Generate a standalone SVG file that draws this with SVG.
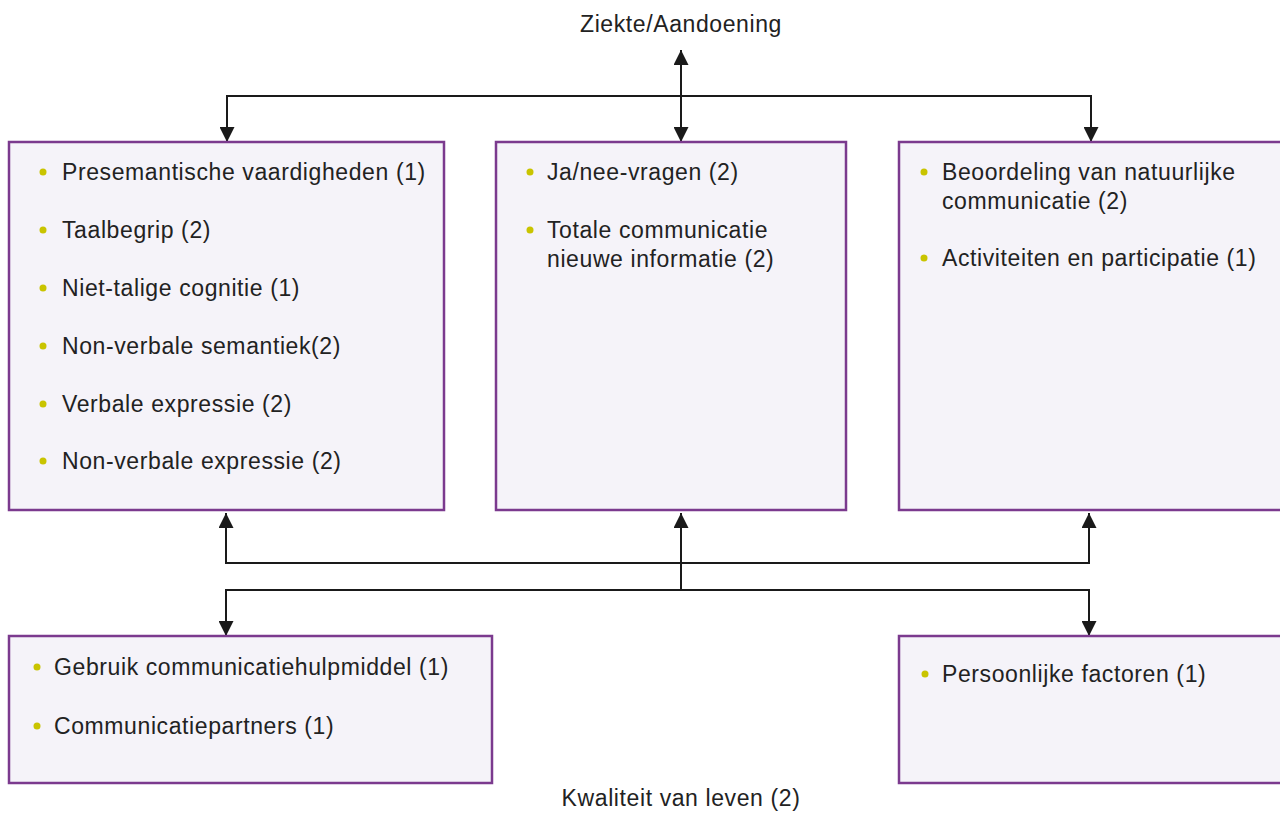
<svg xmlns="http://www.w3.org/2000/svg" width="1280" height="833" viewBox="0 0 1280 833">
<defs>
<style>
.box{fill:#f5f3f9;stroke:#7b3a8e;stroke-width:2.5}
.t{font-family:"Liberation Sans",Arial,sans-serif;font-size:23px;letter-spacing:0.6px;fill:#222}
.c{text-anchor:middle}
.b{fill:#c9c400}
.ln{fill:none;stroke:#1a1a1a;stroke-width:2}
</style>
<marker id="ah" viewBox="0 0 10 10" refX="10" refY="5" markerWidth="15" markerHeight="15" markerUnits="userSpaceOnUse" orient="auto-start-reverse">
<path d="M0,0 L10,5 L0,10 z" fill="#1a1a1a"/>
</marker>
</defs>
<rect width="1280" height="833" fill="#fff"/>
<g id="connectors">
<polyline class="ln" points="227,142 227,96 1091,96 1091,142" marker-start="url(#ah)" marker-end="url(#ah)"/>
<line class="ln" x1="681" y1="50" x2="681" y2="142" marker-start="url(#ah)" marker-end="url(#ah)"/>
<polyline class="ln" points="226,513 226,563 1089,563 1089,513" marker-start="url(#ah)" marker-end="url(#ah)"/>
<line class="ln" x1="681" y1="513" x2="681" y2="590" marker-start="url(#ah)"/>
<polyline class="ln" points="226,636 226,590 1089,590 1089,636" marker-start="url(#ah)" marker-end="url(#ah)"/>
</g>
<g id="ziekte"><text class="t c" x="681" y="32">Ziekte/Aandoening</text></g>
<g id="kwaliteit"><text class="t c" x="681" y="806">Kwaliteit van leven (2)</text></g>
<g id="box1">
<rect class="box" x="9" y="142" width="435" height="368"/>
<circle class="b" cx="43" cy="172" r="3.5"/><text class="t" x="62" y="180">Presemantische vaardigheden (1)</text>
<circle class="b" cx="43" cy="230" r="3.5"/><text class="t" x="62" y="238">Taalbegrip (2)</text>
<circle class="b" cx="43" cy="288" r="3.5"/><text class="t" x="62" y="296">Niet-talige cognitie (1)</text>
<circle class="b" cx="43" cy="346" r="3.5"/><text class="t" x="62" y="354">Non-verbale semantiek(2)</text>
<circle class="b" cx="43" cy="404" r="3.5"/><text class="t" x="62" y="412">Verbale expressie (2)</text>
<circle class="b" cx="43" cy="461" r="3.5"/><text class="t" x="62" y="469">Non-verbale expressie (2)</text>
</g>
<g id="box2">
<rect class="box" x="496" y="142" width="350" height="368"/>
<circle class="b" cx="530" cy="172" r="3.5"/><text class="t" x="547" y="180">Ja/nee-vragen (2)</text>
<circle class="b" cx="530" cy="230" r="3.5"/><text class="t" x="547" y="238">Totale communicatie</text>
<text class="t" x="547" y="267">nieuwe informatie (2)</text>
</g>
<g id="box3">
<rect class="box" x="899" y="142" width="390" height="368"/>
<circle class="b" cx="924" cy="172" r="3.5"/><text class="t" x="942" y="180">Beoordeling van natuurlijke</text>
<text class="t" x="942" y="209">communicatie (2)</text>
<circle class="b" cx="924" cy="258" r="3.5"/><text class="t" x="942" y="266">Activiteiten en participatie (1)</text>
</g>
<g id="box4">
<rect class="box" x="9" y="636" width="483" height="147"/>
<circle class="b" cx="37" cy="667" r="3.5"/><text class="t" x="54" y="675">Gebruik communicatiehulpmiddel (1)</text>
<circle class="b" cx="37" cy="726" r="3.5"/><text class="t" x="54" y="734">Communicatiepartners (1)</text>
</g>
<g id="box5">
<rect class="box" x="899" y="636" width="390" height="147"/>
<circle class="b" cx="925" cy="674" r="3.5"/><text class="t" x="942" y="682">Persoonlijke factoren (1)</text>
</g>
</svg>
